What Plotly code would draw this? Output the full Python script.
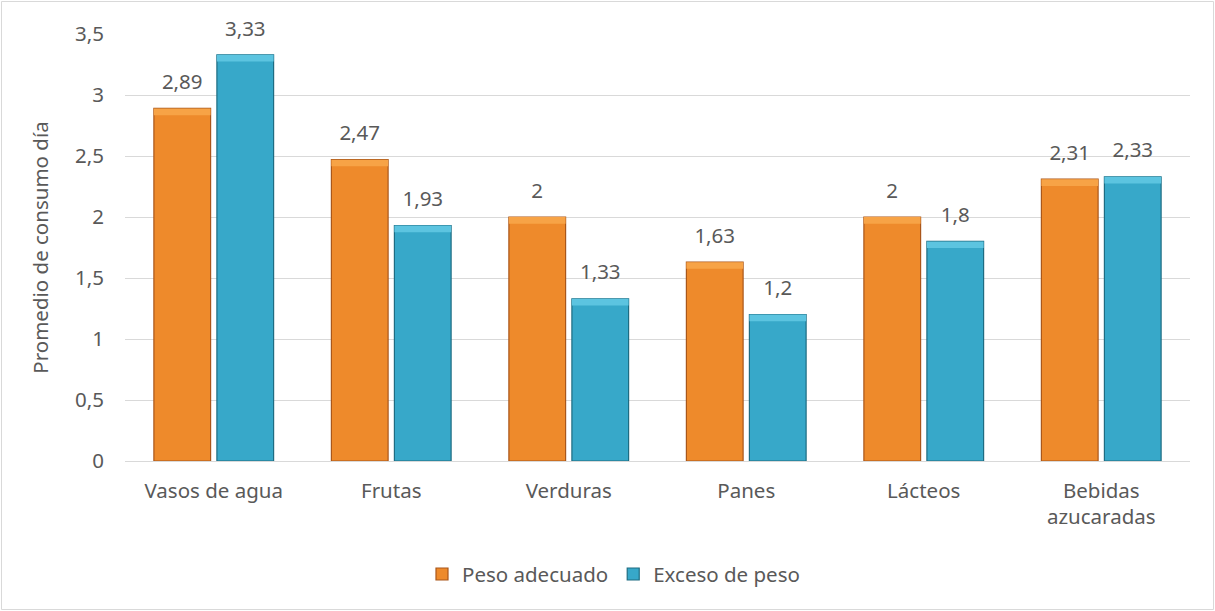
import plotly.graph_objects as go

categorias = ["Vasos de agua", "Frutas", "Verduras", "Panes", "Lácteos", "Bebidas<br>azucaradas"]
peso_adecuado = [2.89, 2.47, 2.0, 1.63, 2.0, 2.31]
exceso_peso = [3.33, 1.93, 1.33, 1.2, 1.8, 2.33]
ticks_y = [0, 0.5, 1, 1.5, 2, 2.5, 3, 3.5]
etiquetas_y = ["0", "0,5", "1", "1,5", "2", "2,5", "3", "3,5"]

W, H = 1215, 611
M_L, M_R, M_T, M_B = 125, 25, 34, 150
FONT = "Noto Sans"
TXT = "#595959"
FS = 20.5
BISEL = 0.055  # height of the lighter top edge on each bar


def etiqueta(v):
    return f"{v:g}".replace(".", ",")


fig = go.Figure()
series = [
    ("Peso adecuado", peso_adecuado, "#EE8A2B", "#A9561A", "#F7A346", "a"),
    ("Exceso de peso", exceso_peso, "#37A8C9", "#1E6C82", "#5CC4E0", "b"),
]
for nombre, valores, color, borde, claro, grupo in series:
    fig.add_trace(go.Bar(
        name=nombre,
        x=categorias,
        y=valores,
        offsetgroup=grupo,
        marker=dict(color=color, line=dict(color=borde, width=1.2)),
    ))
# lighter bevel strip along the top of each bar
for nombre, valores, color, borde, claro, grupo in series:
    fig.add_trace(go.Bar(
        x=categorias,
        y=[BISEL] * len(valores),
        base=[v - BISEL for v in valores],
        offsetgroup=grupo,
        marker=dict(color=claro, line=dict(width=0)),
        showlegend=False,
        hoverinfo="skip",
    ))
# value labels sit above each bar, pushed up by an invisible marker
for nombre, valores, color, borde, claro, grupo in series:
    fig.add_trace(go.Scatter(
        x=categorias,
        y=valores,
        offsetgroup=grupo,
        mode="markers+text",
        marker=dict(size=21, opacity=0),
        text=[etiqueta(v) for v in valores],
        textposition="top center",
        textfont=dict(family=FONT, size=FS, color=TXT),
        showlegend=False,
        hoverinfo="skip",
        cliponaxis=False,
    ))

pw = W - M_L - M_R
ph = H - M_T - M_B
fig.add_shape(
    type="rect", xref="paper", yref="paper",
    x0=(1.5 - M_L) / pw, x1=(W - 1.5 - M_L) / pw,
    y0=-(H - 1.5 - M_T - ph) / ph, y1=1 + (M_T - 1.5) / ph,
    line=dict(color="#D9D9D9", width=1), fillcolor="rgba(0,0,0,0)", layer="below",
)

fig.update_layout(
    width=W, height=H,
    margin=dict(l=M_L, r=M_R, t=M_T, b=M_B),
    paper_bgcolor="white", plot_bgcolor="white",
    barmode="group", bargap=0.29, bargroupgap=0.1,
    scattermode="group", scattergap=0.29,
    font=dict(family=FONT, size=FS, color=TXT),
    showlegend=True,
    legend=dict(
        orientation="h", x=(W / 2 + 6 - M_L) / pw, xanchor="center", y=-0.265, yanchor="middle",
        font=dict(family=FONT, size=FS, color=TXT), itemwidth=30,
        traceorder="normal",
    ),
    xaxis=dict(
        showgrid=False, showline=True, linecolor="#D9D9D9", linewidth=1,
        ticks="", ticklabelstandoff=11, tickfont=dict(family=FONT, size=FS, color=TXT),
    ),
    yaxis=dict(
        range=[0, 3.5], tickvals=ticks_y, ticktext=etiquetas_y,
        showgrid=True, gridcolor="#D9D9D9", gridwidth=1, zeroline=False,
        showline=False, ticks="", ticklabelstandoff=20,
        tickfont=dict(family=FONT, size=FS, color=TXT),
        title=dict(text="Promedio de consumo día", font=dict(family=FONT, size=FS, color=TXT), standoff=20),
    ),
)

fig.write_html("out.html")
